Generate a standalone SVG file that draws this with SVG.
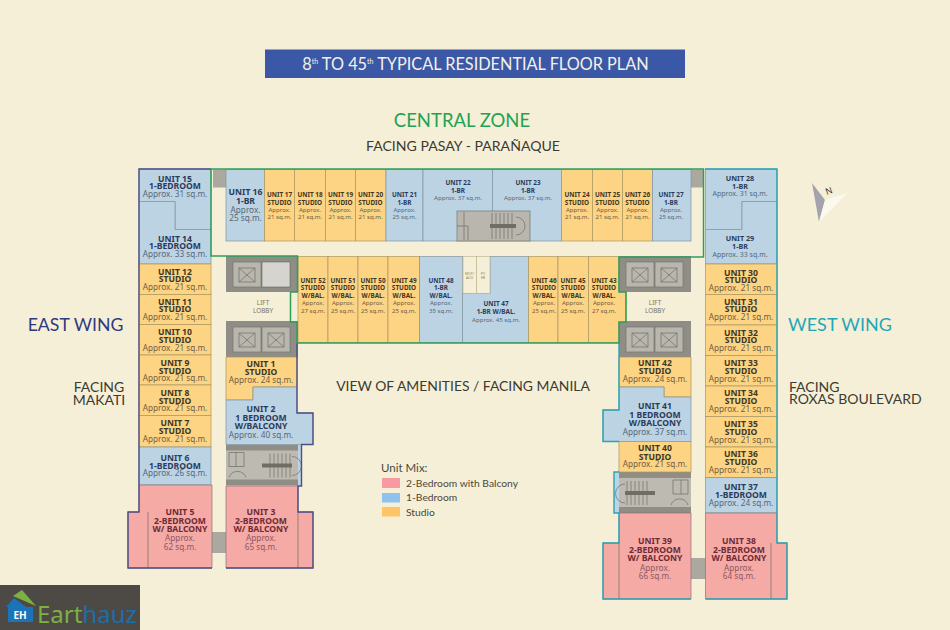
<svg xmlns="http://www.w3.org/2000/svg" width="950" height="630" viewBox="0 0 950 630">
<style>
text{font-family:"Noto Sans","Liberation Sans",sans-serif;text-anchor:middle}
.h{font-family:Lato,"Liberation Sans",sans-serif}
.st{text-anchor:start}
.o{fill:#fdd384;stroke:#a8975f;stroke-width:.7}
.b{fill:#bcd3e3;stroke:#7f94a2;stroke-width:.7}
.p{fill:#f5aaa6;stroke:#8d7078;stroke-width:.7}
.to{fill:#41371f}.ao{fill:#6e6042}
.tb{fill:#2b3b5b}.ab{fill:#566879}
.tp{fill:#6d2b35}.ap{fill:#8e5862}
.L{font-size:8.6px;font-weight:700}.La{font-size:8.2px}
.M{font-size:7.2px;font-weight:700}.Ma{font-size:7px}
.S{font-size:6.4px;font-weight:700}.Sa{font-size:6.1px}
.g1{fill:#8f8d86}.gl{fill:#aaa89f}.g2{fill:#b9b7ad;stroke:#77756e;stroke-width:.7}
.ln{fill:none;stroke:#6f6d66;stroke-width:.7}
.lb{font-size:6.4px;fill:#77735f}
.tiny{font-size:3.6px;fill:#8a8468}
</style>
<defs>
<g id="shaft"><rect class="g2" width="28" height="25"/><rect class="ln" x="6" y="6" width="16" height="14"/><path class="ln" d="M6 6L22 20M22 6L6 20"/></g>
<g id="lift"><path class="g1" d="M0 0H72V36H0Z"/><use href="#shaft" x="7" y="6"/><use href="#shaft" x="36" y="6"/></g>
<g id="stair"><rect class="g1" width="72" height="41"/><rect x="0" y="6" width="72" height="29" fill="#bdbbb1"/><path class="ln" d="M3 8H18V22H3ZM10 8V22M44 9V33M48 9V33M52 9V33M56 9V33M60 9V33M64 9V33"/><path d="M36 19H66V23H36Z" fill="#6f6d66"/><path class="ln" d="M66 12A9 9 0 0 1 66 31"/><path class="ln" d="M3 33A9 9 0 0 1 20 33"/></g>
</defs>
<rect width="950" height="630" fill="#f6efd7"/>

<g id="heading">
<rect x="265" y="49.500" width="420" height="28.500" fill="#3b58a7"/>
<text class="h" x="475.500" y="69.500" font-size="16.300" fill="#f3f1e6">8<tspan font-size="7" dy="-6">th</tspan><tspan dy="6"> TO 45</tspan><tspan font-size="7" dy="-6">th</tspan><tspan dy="6"> TYPICAL RESIDENTIAL FLOOR PLAN</tspan></text>
<text class="h" x="462" y="127" font-size="18.500" fill="#22a254">CENTRAL ZONE</text>
<text class="h" x="463" y="151" font-size="14.100" fill="#3c3a32">FACING PASAY - PARAÑAQUE</text>
<text class="h" x="75.500" y="331" font-size="17.700" fill="#2e3a80">EAST WING</text>
<text class="h" x="840" y="331" font-size="18" fill="#1fa7b8">WEST WING</text>
<text class="h" x="99" y="392" font-size="14" fill="#3c3a32">FACING</text>
<text class="h" x="99" y="405" font-size="14" fill="#3c3a32">MAKATI</text>
<text class="h st" x="789" y="392" font-size="14" fill="#3c3a32">FACING</text>
<text class="h st" x="789" y="404" font-size="14" fill="#3c3a32">ROXAS BOULEVARD</text>
<text class="h" x="463" y="391" font-size="13.900" fill="#3c3a32">VIEW OF AMENITIES / FACING MANILA</text>
</g>

<g id="core-grey">
<rect class="gl" x="213" y="169.500" width="13" height="18"/>
<rect class="gl" x="691" y="169.500" width="12" height="18"/>
<rect class="gl" x="212" y="532" width="14" height="21"/>
<rect class="gl" x="691" y="558" width="15" height="21"/>
<rect x="298" y="445" width="3.500" height="41" fill="#bcd3e3"/>
<rect x="614" y="472" width="5" height="41" fill="#bcd3e3"/>
<use href="#lift" x="226" y="256"/>
<rect x="262" y="262" width="28" height="25" fill="#d6d4cf" stroke="#77756e" stroke-width=".7"/>
<use href="#lift" x="226" y="321"/>
<use href="#lift" x="619" y="256"/>
<use href="#lift" x="619" y="321"/>
<use href="#stair" x="226" y="444.500"/>
<use href="#stair" transform="translate(691 472) scale(-1 1)"/>
</g>

<g id="lift-lobby-east"><text class="lb" x="263" y="305">LIFT</text><text class="lb" x="263" y="313">LOBBY</text></g>
<g id="lift-lobby-west"><text class="lb" x="655" y="305">LIFT</text><text class="lb" x="655" y="313">LOBBY</text></g>

<g id="unit-15"><path class="b" d="M139 169H211V229.500H175V201.500H139Z"/><text class="tb L" x="175" y="181.500">UNIT 15</text><text class="tb L" x="175" y="189">1-BEDROOM</text><text class="ab La" x="175" y="196.500">Approx. 31 sq.m.</text></g>
<g id="unit-14"><path class="b" d="M139 201.500H175V229.500H211V264H139Z"/><text class="tb L" x="175" y="241.500">UNIT 14</text><text class="tb L" x="175" y="249">1-BEDROOM</text><text class="ab La" x="175" y="256.500">Approx. 33 sq.m.</text></g>
<g id="unit-12"><rect class="o" x="139" y="264" width="72" height="30.500"/><text class="to L" x="175" y="274.500">UNIT 12</text><text class="to L" x="175" y="282">STUDIO</text><text class="ao La" x="175" y="290">Approx. 21 sq.m.</text></g>
<g id="unit-11"><rect class="o" x="139" y="294.500" width="72" height="30"/><text class="to L" x="175" y="304.500">UNIT 11</text><text class="to L" x="175" y="312">STUDIO</text><text class="ao La" x="175" y="320">Approx. 21 sq.m.</text></g>
<g id="unit-10"><rect class="o" x="139" y="324.500" width="72" height="30.500"/><text class="to L" x="175" y="335">UNIT 10</text><text class="to L" x="175" y="343">STUDIO</text><text class="ao La" x="175" y="351">Approx. 21 sq.m.</text></g>
<g id="unit-9"><rect class="o" x="139" y="355" width="72" height="30"/><text class="to L" x="175" y="365.500">UNIT 9</text><text class="to L" x="175" y="373.500">STUDIO</text><text class="ao La" x="175" y="381">Approx. 21 sq.m.</text></g>
<g id="unit-8"><rect class="o" x="139" y="385" width="72" height="30.500"/><text class="to L" x="175" y="395.500">UNIT 8</text><text class="to L" x="175" y="403.500">STUDIO</text><text class="ao La" x="175" y="411">Approx. 21 sq.m.</text></g>
<g id="unit-7"><rect class="o" x="139" y="415.500" width="72" height="31.500"/><text class="to L" x="175" y="426">UNIT 7</text><text class="to L" x="175" y="433.500">STUDIO</text><text class="ao La" x="175" y="441.500">Approx. 21 sq.m.</text></g>
<g id="unit-6"><rect class="b" x="139" y="447" width="72" height="38"/><text class="tb L" x="175" y="460.500">UNIT 6</text><text class="tb L" x="175" y="468.500">1-BEDROOM</text><text class="ab La" x="175" y="476">Approx. 26 sq.m.</text></g>
<g id="unit-5"><path class="p" d="M139 485H212V568H128V512H139Z"/><path class="ln" d="M148 512V568"/><text class="tp L" x="180" y="515">UNIT 5</text><text class="tp L" x="180" y="523.500">2-BEDROOM</text><text class="tp L" x="180" y="532">W/ BALCONY</text><text class="ap La" x="180" y="541">Approx.</text><text class="ap La" x="180" y="549.500">62 sq.m.</text></g>
<g id="unit-1"><path class="o" d="M226 357H297V387H253V400H226Z"/><text class="to L" x="261" y="367">UNIT 1</text><text class="to L" x="261" y="375">STUDIO</text><text class="ao La" x="261" y="383">Approx. 24 sq.m.</text></g>
<g id="unit-2"><path class="b" d="M253 387H297V413H313V444.500H226V400H253Z"/><text class="tb L" x="261" y="412">UNIT 2</text><text class="tb L" x="261" y="420.500">1 BEDROOM</text><text class="tb L" x="261" y="429">W/BALCONY</text><text class="ab La" x="261" y="438">Approx. 40 sq.m.</text></g>
<g id="unit-3"><path class="p" d="M226 486H298V512H313V568H226Z"/><path class="ln" d="M298 512V568"/><text class="tp L" x="261" y="515">UNIT 3</text><text class="tp L" x="261" y="523.500">2-BEDROOM</text><text class="tp L" x="261" y="532">W/ BALCONY</text><text class="ap La" x="261" y="541">Approx.</text><text class="ap La" x="261" y="549.500">65 sq.m.</text></g>

<g id="unit-16"><rect class="b" x="226" y="169.500" width="38.500" height="71.500"/><text class="tb L" x="245.500" y="195">UNIT 16</text><text class="tb L" x="245.500" y="204">1-BR</text><text class="ab La" x="245.500" y="212.500">Approx.</text><text class="ab La" x="245.500" y="221">25 sq.m.</text></g>
<g id="unit-17"><rect class="o" x="264.500" y="169.500" width="30" height="71.500"/><text class="to S" x="279.500" y="196.500">UNIT 17</text><text class="to S" x="279.500" y="204.500">STUDIO</text><text class="ao Sa" x="279.500" y="211.500">Approx.</text><text class="ao Sa" x="279.500" y="219">21 sq.m.</text></g>
<g id="unit-18"><rect class="o" x="294.500" y="169.500" width="31" height="71.500"/><text class="to S" x="310" y="196.500">UNIT 18</text><text class="to S" x="310" y="204.500">STUDIO</text><text class="ao Sa" x="310" y="211.500">Approx.</text><text class="ao Sa" x="310" y="219">21 sq.m.</text></g>
<g id="unit-19"><rect class="o" x="325.500" y="169.500" width="30" height="71.500"/><text class="to S" x="340.500" y="196.500">UNIT 19</text><text class="to S" x="340.500" y="204.500">STUDIO</text><text class="ao Sa" x="340.500" y="211.500">Approx.</text><text class="ao Sa" x="340.500" y="219">21 sq.m.</text></g>
<g id="unit-20"><rect class="o" x="355.500" y="169.500" width="30.500" height="71.500"/><text class="to S" x="370.500" y="196.500">UNIT 20</text><text class="to S" x="370.500" y="204.500">STUDIO</text><text class="ao Sa" x="370.500" y="211.500">Approx.</text><text class="ao Sa" x="370.500" y="219">21 sq.m.</text></g>
<g id="unit-21"><rect class="b" x="386" y="169.500" width="37" height="71.500"/><text class="tb S" x="404.500" y="196.500">UNIT 21</text><text class="tb S" x="404.500" y="204.500">1-BR</text><text class="ab Sa" x="404.500" y="211.500">Approx.</text><text class="ab Sa" x="404.500" y="219">25 sq.m.</text></g>
<g id="unit-22"><path class="b" d="M423 169.500H492.500V241H423Z"/><text class="tb S" x="458" y="184.500">UNIT 22</text><text class="tb S" x="458" y="192.500">1-BR</text><text class="ab Sa" x="458" y="200">Approx. 37 sq.m.</text></g>
<g id="unit-23"><path class="b" d="M492.500 169.500H561.500V241H492.500Z"/><text class="tb S" x="528" y="184.500">UNIT 23</text><text class="tb S" x="528" y="192.500">1-BR</text><text class="ab Sa" x="528" y="200">Approx. 37 sq.m.</text></g>
<g id="top-stair"><rect class="g2" x="457" y="211" width="73" height="30"/><path class="ln" d="M464 212V240M457 226H468V240M492 213V239M496 213V239M500 213V239M504 213V239M508 213V239M512 213V239"/><path d="M490 224H516V228H490Z" fill="#6f6d66"/><path class="ln" d="M516 217A9 9 0 0 1 516 235"/></g>
<g id="unit-24"><rect class="o" x="561.500" y="169.500" width="31" height="71.500"/><text class="to S" x="577" y="196.500">UNIT 24</text><text class="to S" x="577" y="204.500">STUDIO</text><text class="ao Sa" x="577" y="211.500">Approx.</text><text class="ao Sa" x="577" y="219">21 sq.m.</text></g>
<g id="unit-25"><rect class="o" x="592.500" y="169.500" width="30" height="71.500"/><text class="to S" x="607.500" y="196.500">UNIT 25</text><text class="to S" x="607.500" y="204.500">STUDIO</text><text class="ao Sa" x="607.500" y="211.500">Approx.</text><text class="ao Sa" x="607.500" y="219">21 sq.m.</text></g>
<g id="unit-26"><rect class="o" x="622.500" y="169.500" width="30" height="71.500"/><text class="to S" x="637.500" y="196.500">UNIT 26</text><text class="to S" x="637.500" y="204.500">STUDIO</text><text class="ao Sa" x="637.500" y="211.500">Approx.</text><text class="ao Sa" x="637.500" y="219">21 sq.m.</text></g>
<g id="unit-27"><rect class="b" x="652.500" y="169.500" width="38.500" height="71.500"/><text class="tb S" x="671" y="196.500">UNIT 27</text><text class="tb S" x="671" y="204.500">1-BR</text><text class="ab Sa" x="671" y="211.500">Approx.</text><text class="ab Sa" x="671" y="219">25 sq.m.</text></g>

<g id="unit-52"><rect class="o" x="298" y="256.500" width="30" height="86"/><text class="to S" x="313" y="282.500">UNIT 52</text><text class="to S" x="313" y="290">STUDIO</text><text class="to S" x="313" y="297.500">W/BAL.</text><text class="ao Sa" x="313" y="305">Approx.</text><text class="ao Sa" x="313" y="312.500">27 sq.m.</text></g>
<g id="unit-51"><rect class="o" x="328" y="256.500" width="30" height="86"/><text class="to S" x="343" y="282.500">UNIT 51</text><text class="to S" x="343" y="290">STUDIO</text><text class="to S" x="343" y="297.500">W/BAL.</text><text class="ao Sa" x="343" y="305">Approx.</text><text class="ao Sa" x="343" y="312.500">25 sq.m.</text></g>
<g id="unit-50"><rect class="o" x="358" y="256.500" width="30" height="86"/><text class="to S" x="373" y="282.500">UNIT 50</text><text class="to S" x="373" y="290">STUDIO</text><text class="to S" x="373" y="297.500">W/BAL.</text><text class="ao Sa" x="373" y="305">Approx.</text><text class="ao Sa" x="373" y="312.500">25 sq.m.</text></g>
<g id="unit-49"><rect class="o" x="388" y="256.500" width="31.500" height="86"/><text class="to S" x="404" y="282.500">UNIT 49</text><text class="to S" x="404" y="290">STUDIO</text><text class="to S" x="404" y="297.500">W/BAL.</text><text class="ao Sa" x="404" y="305">Approx.</text><text class="ao Sa" x="404" y="312.500">25 sq.m.</text></g>
<g id="unit-48"><rect class="b" x="419.500" y="256.500" width="43" height="86"/><text class="tb S" x="441" y="282.500">UNIT 48</text><text class="tb S" x="441" y="290">1-BR</text><text class="tb S" x="441" y="297.500">W/BAL.</text><text class="ab Sa" x="441" y="305">Approx.</text><text class="ab Sa" x="441" y="312.500">35 sq.m.</text></g>
<g id="unit-47"><path class="b" d="M490 256.500H528.500V342.500H462.500V293.500H490Z"/><text class="tb S" x="496" y="305.500">UNIT 47</text><text class="tb S" x="496" y="313.500">1-BR W/BAL.</text><text class="ab Sa" x="496" y="321.500">Approx. 45 sq.m.</text></g>
<g id="mcp-aux"><rect x="463" y="256.500" width="13.500" height="37" fill="#f6efd7" stroke="#b8ad85" stroke-width=".6"/><text class="tiny" x="469.500" y="275">MCP/</text><text class="tiny" x="469.500" y="279">AUX</text></g>
<g id="pv-er"><rect x="476.500" y="256.500" width="13.500" height="37" fill="#f6efd7" stroke="#b8ad85" stroke-width=".6"/><text class="tiny" x="483" y="275">PV</text><text class="tiny" x="483" y="279">ER</text></g>
<g id="unit-46"><rect class="o" x="528.500" y="256.500" width="29.500" height="86"/><text class="to S" x="544" y="282.500">UNIT 46</text><text class="to S" x="544" y="290">STUDIO</text><text class="to S" x="544" y="297.500">W/BAL.</text><text class="ao Sa" x="544" y="305">Approx.</text><text class="ao Sa" x="544" y="312.500">25 sq.m.</text></g>
<g id="unit-45"><rect class="o" x="558" y="256.500" width="30.500" height="86"/><text class="to S" x="573" y="282.500">UNIT 45</text><text class="to S" x="573" y="290">STUDIO</text><text class="to S" x="573" y="297.500">W/BAL.</text><text class="ao Sa" x="573" y="305">Approx.</text><text class="ao Sa" x="573" y="312.500">25 sq.m.</text></g>
<g id="unit-43"><path class="o" d="M588.500 256.500H619V292H626V322H619V342.500H588.500Z"/><text class="to S" x="604" y="282.500">UNIT 43</text><text class="to S" x="604" y="290">STUDIO</text><text class="to S" x="604" y="297.500">W/BAL.</text><text class="ao Sa" x="604" y="305">Approx.</text><text class="ao Sa" x="604" y="312.500">27 sq.m.</text></g>

<g id="unit-28"><path class="b" d="M705.500 169H777V201.500H742V229.500H705.500Z"/><text class="tb M" x="740" y="180.500">UNIT 28</text><text class="tb M" x="740" y="188.500">1-BR</text><text class="ab Ma" x="740" y="196">Approx. 31 sq.m.</text></g>
<g id="unit-29"><path class="b" d="M742 201.500H777V264H705.500V229.500H742Z"/><text class="tb M" x="740" y="241">UNIT 29</text><text class="tb M" x="740" y="249">1-BR</text><text class="ab Ma" x="740" y="257">Approx. 33 sq.m.</text></g>
<g id="unit-30"><rect class="o" x="705.500" y="264" width="71.500" height="30.500"/><text class="to L" x="741" y="275.500">UNIT 30</text><text class="to L" x="741" y="283">STUDIO</text><text class="ao La" x="741" y="290.500">Approx. 21 sq.m.</text></g>
<g id="unit-31"><rect class="o" x="705.500" y="294.500" width="71.500" height="30.500"/><text class="to L" x="741" y="304.500">UNIT 31</text><text class="to L" x="741" y="312">STUDIO</text><text class="ao La" x="741" y="320">Approx. 21 sq.m.</text></g>
<g id="unit-32"><rect class="o" x="705.500" y="325" width="71.500" height="30.500"/><text class="to L" x="741" y="335.500">UNIT 32</text><text class="to L" x="741" y="343">STUDIO</text><text class="ao La" x="741" y="351">Approx. 21 sq.m.</text></g>
<g id="unit-33"><rect class="o" x="705.500" y="355.500" width="71.500" height="30.500"/><text class="to L" x="741" y="366">UNIT 33</text><text class="to L" x="741" y="374">STUDIO</text><text class="ao La" x="741" y="381.500">Approx. 21 sq.m.</text></g>
<g id="unit-34"><rect class="o" x="705.500" y="386" width="71.500" height="30.500"/><text class="to L" x="741" y="396">UNIT 34</text><text class="to L" x="741" y="404">STUDIO</text><text class="ao La" x="741" y="411.500">Approx. 21 sq.m.</text></g>
<g id="unit-35"><rect class="o" x="705.500" y="416.500" width="71.500" height="30.500"/><text class="to L" x="741" y="427">UNIT 35</text><text class="to L" x="741" y="434.500">STUDIO</text><text class="ao La" x="741" y="442.500">Approx. 21 sq.m.</text></g>
<g id="unit-36"><rect class="o" x="705.500" y="447" width="71.500" height="30.500"/><text class="to L" x="741" y="457">UNIT 36</text><text class="to L" x="741" y="464.500">STUDIO</text><text class="ao La" x="741" y="472.500">Approx. 21 sq.m.</text></g>
<g id="unit-37"><rect class="b" x="705.500" y="477.500" width="71.500" height="35.500"/><text class="tb L" x="741" y="490">UNIT 37</text><text class="tb L" x="741" y="497.500">1-BEDROOM</text><text class="ab La" x="741" y="505.500">Approx. 24 sq.m.</text></g>
<g id="unit-38"><path class="p" d="M705.500 513H777V543H787V599H705.500Z"/><path class="ln" d="M771 543V599"/><text class="tp L" x="739" y="544">UNIT 38</text><text class="tp L" x="739" y="553">2-BEDROOM</text><text class="tp L" x="739" y="561">W/ BALCONY</text><text class="ap La" x="739" y="570.500">Approx.</text><text class="ap La" x="739" y="579">64 sq.m.</text></g>
<g id="unit-42"><path class="o" d="M619 357H691V397H664V387H619Z"/><text class="to L" x="655" y="365.500">UNIT 42</text><text class="to L" x="655" y="374">STUDIO</text><text class="ao La" x="655" y="382">Approx. 24 sq.m.</text></g>
<g id="unit-41"><path class="b" d="M619 387H664V397H691V441.500H603V410H619Z"/><text class="tb L" x="655" y="409">UNIT 41</text><text class="tb L" x="655" y="417.500">1 BEDROOM</text><text class="tb L" x="655" y="426">W/BALCONY</text><text class="ab La" x="655" y="435">Approx. 37 sq.m.</text></g>
<g id="unit-40"><rect class="o" x="619" y="441.500" width="72" height="30.500"/><text class="to L" x="655" y="451">UNIT 40</text><text class="to L" x="655" y="459.500">STUDIO</text><text class="ao La" x="655" y="467">Approx. 21 sq.m.</text></g>
<g id="unit-39"><path class="p" d="M619 513H691V599H603V543H619Z"/><path class="ln" d="M619 543V599"/><text class="tp L" x="655" y="544">UNIT 39</text><text class="tp L" x="655" y="553">2-BEDROOM</text><text class="tp L" x="655" y="561">W/ BALCONY</text><text class="ap La" x="655" y="570.500">Approx.</text><text class="ap La" x="655" y="579">66 sq.m.</text></g>

<g id="outlines" fill="none">
<path stroke="#4d4f86" stroke-width="1.400" d="M211 169H139V512H128V568H212M297 343V413H313V444.500H301.500V486H298V512H313V568H226"/>
<path stroke="#2ba3b5" stroke-width="1.400" d="M705 169H777V543H787V599H705.500M619 343V410H603V441.500H619M619 472H614V513H619V543H603V599H691"/>
<path stroke="#2e9f5b" stroke-width="1.500" d="M211 169H703.500V257H619V292H626V322H619V343H297V322H290.500V292H297.500V256H211Z"/>
</g>

<g id="legend">
<text class="h st" x="381" y="472" font-size="11.500" fill="#4a473c">Unit Mix:</text>
<rect x="382" y="478" width="18" height="10" fill="#f99aa2"/><text class="h st" x="406" y="487" font-size="10.300" fill="#4a473c">2-Bedroom with Balcony</text>
<rect x="382" y="493" width="18" height="9.500" fill="#8fc3ee"/><text class="h st" x="406" y="501" font-size="10.300" fill="#4a473c">1-Bedroom</text>
<rect x="382" y="507" width="18" height="9.500" fill="#fdc568"/><text class="h st" x="406" y="516" font-size="10.300" fill="#4a473c">Studio</text>
</g>

<g id="compass">
<path d="M812 183L825 200L819 222Z" fill="#a4a3ad"/>
<path d="M825 200L847 193L819 222Z" fill="#fbf9ee"/>
<text x="829" y="194" font-size="9" fill="#3c3a32" transform="rotate(-20 829 191)">N</text>
</g>

<g id="logo">
<rect y="585" width="140" height="45" fill="#4d4a45"/>
<path d="M13 596L22 590L36 606Z" fill="#7db043"/>
<path d="M6 607L14 598L26 607H33V622H8V607Z" fill="#1c74b8"/>
<text x="20" y="619" font-size="10" font-weight="700" fill="#fff">EH</text>
<text class="st" x="37" y="623" font-size="24"><tspan fill="#7db043">Eart</tspan><tspan fill="#1c6ea8">hauz</tspan></text>
</g>
</svg>
